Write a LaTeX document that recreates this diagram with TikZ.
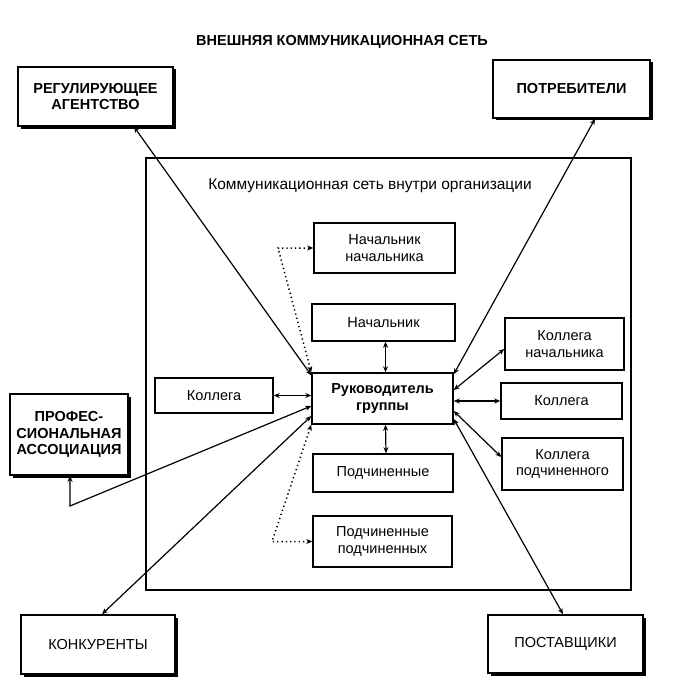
\documentclass[tikz,border=0pt]{standalone}
\usepackage{fontspec}
\setmainfont{Liberation Sans}
\usetikzlibrary{arrows.meta,shadows}
\begin{document}
\begin{tikzpicture}[x=1pt,y=-1pt,
  txt/.style={font=\fontsize{14.5}{16.5}\selectfont},
  btxt/.style={font=\bfseries\fontsize{14.5}{16.5}\selectfont},
  box/.style={draw,line width=1.5pt,align=center,inner sep=2pt,txt},
  ext/.style={box,line width=1.6pt,drop shadow={shadow xshift=2.5pt,shadow yshift=-2.5pt,fill=black,opacity=1},fill=white},
  link/.style={<->,line width=1.2pt,>={Stealth[length=6pt,width=5pt]}},
  dotlink/.style={link,line width=1.5pt,dash pattern=on 1.3pt off 3pt},
]
\useasboundingbox (0,0) rectangle (678,698);

\node[btxt] (title) at (342,42) {ВНЕШНЯЯ КОММУНИКАЦИОННАЯ СЕТЬ};

\draw[line width=1.5pt] (146,158) rectangle (631,590);
\node[font=\fontsize{15.5}{17}\selectfont] (inner) at (370,186) {Коммуникационная сеть внутри организации};

% external boxes
\node[ext,btxt,minimum width=155pt,minimum height=59pt] (reg) at (95.5,96.5) {РЕГУЛИРУЮЩЕЕ\\АГЕНТСТВО};
\node[ext,btxt,minimum width=157pt,minimum height=58pt] (potr) at (571.5,89) {ПОТРЕБИТЕЛИ};
\node[ext,btxt,minimum width=118pt,minimum height=81pt] (prof) at (69,434.5) {ПРОФЕС-\\СИОНАЛЬНАЯ\\АССОЦИАЦИЯ};
\node[ext,minimum width=154pt,minimum height=59pt] (konk) at (98,644.5) {КОНКУРЕНТЫ};
\node[ext,minimum width=155pt,minimum height=58pt] (post) at (565.5,644) {ПОСТАВЩИКИ};

% internal boxes
\node[box,minimum width=141pt,minimum height=50pt] (nn) at (384.5,248) {Начальник\\начальника};
\node[box,minimum width=143pt,minimum height=37pt] (nach) at (383.5,322.5) {Начальник};
\node[box,btxt,minimum width=141pt,minimum height=51pt] (ruk) at (382.5,398.5) {Руководитель\\группы};
\node[box,minimum width=118pt,minimum height=35pt] (kolL) at (214,395.5) {Коллега};
\node[box,minimum width=119pt,minimum height=52pt] (kn) at (564.5,344) {Коллега\\начальника};
\node[box,minimum width=121pt,minimum height=36pt] (kolR) at (561.5,401) {Коллега};
\node[box,minimum width=121pt,minimum height=52pt] (kp) at (562.5,464) {Коллега\\подчиненного};
\node[box,minimum width=140pt,minimum height=38pt] (pod) at (383,473) {Подчиненные};
\node[box,minimum width=139pt,minimum height=51pt] (pp) at (382.5,541.5) {Подчиненные\\подчиненных};

\coordinate (profc) at (70,506);
\coordinate (c1) at (278,248);
\coordinate (c2) at (272,541.5);

% connectors
\draw[link] ([xshift=38.5pt]reg.south) -- ([yshift=-3pt]ruk.north west);
\draw[link] ([xshift=23.5pt]potr.south) -- ([yshift=-2pt]ruk.north east);
\draw[link] ([xshift=2pt]nach.south) -- ([xshift=3pt]ruk.north);
\draw[link] ([xshift=3pt]ruk.south) -- ([xshift=3pt]pod.north);
\draw[link] (kolL.east) -- (kolL.east -| ruk.west);
\draw[link] (kolR.west -| ruk.east) -- (kolR.west);
\draw[link] ([yshift=8.5pt]ruk.east) -- ([yshift=-5pt]kn.west);
\draw[link] ([yshift=-12.5pt]ruk.east) -- ([yshift=7pt]kp.west);
\draw[link] ([yshift=-20.5pt]ruk.east) -- ([xshift=-2.5pt]post.north);
\draw[link] ([yshift=-17.5pt]ruk.west) -- ([xshift=4pt]konk.north);
\draw[link] ([yshift=-7.5pt]ruk.west) -- (profc) -- (prof.south -| profc);
\draw[dotlink] (ruk.north west) -- (c1) -- (nn.west);
\draw[dotlink] (ruk.south west) -- (c2) -- (pp.west);
\end{tikzpicture}
\end{document}
